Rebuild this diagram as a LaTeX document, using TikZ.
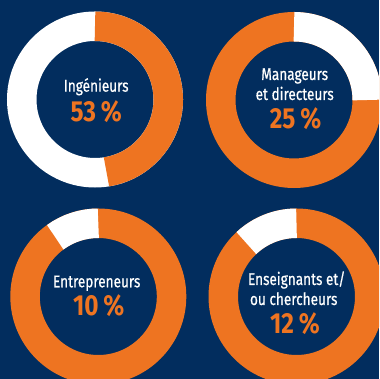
\documentclass[tikz,border=0pt]{standalone}
\usepackage{fontspec}
\setmainfont{Fira Sans}[FakeStretch=0.82]
\newfontfamily\lblfont{Fira Sans}[FakeStretch=0.8, FakeBold=0.6]
\newfontfamily\pctfont{Fira Sans}[FakeStretch=0.84]
\definecolor{navy}{HTML}{022D5E}
\definecolor{orng}{HTML}{EE7421}
\begin{document}
\begin{tikzpicture}[x=1pt,y=1pt,
  ring/.style={line width=29.5pt},
  lbl/.style={text=white, font=\lblfont\fontsize{17}{20}\selectfont, anchor=base, inner sep=0pt},
  pct/.style={text=orng, font=\pctfont\fontsize{29}{32}\selectfont\bfseries, anchor=base, inner sep=0pt}]
\fill[navy] (0,0) rectangle (379,379);
\useasboundingbox (0,0) rectangle (379,379);
\coordinate (c1) at (95,279.5);
\coordinate (c2) at (294,279);
\coordinate (c3) at (98.3,82.5);
\coordinate (c4) at (296.5,82.5);
\begin{scope}
\clip (0,0) rectangle (379,379);
% donut 1
\draw[ring, white] (c1) circle[radius=73.25];
\draw[ring, orng] ([shift={(-81:73.25)}]c1) arc[start angle=-81, end angle=90, radius=73.25];
% donut 2
\draw[ring, orng] (c2) circle[radius=73.25];
\draw[ring, white] ([shift={(0:73.25)}]c2) arc[start angle=0, end angle=90, radius=73.25];
% donut 3
\draw[ring, orng] (c3) circle[radius=73.25];
\draw[ring, white] ([shift={(90:73.25)}]c3) arc[start angle=90, end angle=126, radius=73.25];
% donut 4
\draw[ring, orng] (c4) circle[radius=73.25];
\draw[ring, white] ([shift={(90:73.25)}]c4) arc[start angle=90, end angle=133.2, radius=73.25];
\end{scope}
% labels
\node[lbl] (l1) at (96.2,287.3) {Ingénieurs};
\node[pct] (p1) at (96.2,257.3) {53\,\%};
\node[lbl] (l2a) at (294.7,299) {Manageurs};
\node[lbl] (l2b) at (294.7,279) {et directeurs};
\node[pct] (p2) at (295.5,250.7) {25\,\%};
\node[lbl] (l3) at (96.7,91.7) {Entrepreneurs};
\node[pct] (p3) at (98.7,63) {10\,\%};
\node[lbl] (l4a) at (296.7,94) {Enseignants et/};
\node[lbl] (l4b) at (293.7,74) {ou chercheurs};
\node[pct] (p4) at (295,45.7) {12\,\%};
\end{tikzpicture}
\end{document}
